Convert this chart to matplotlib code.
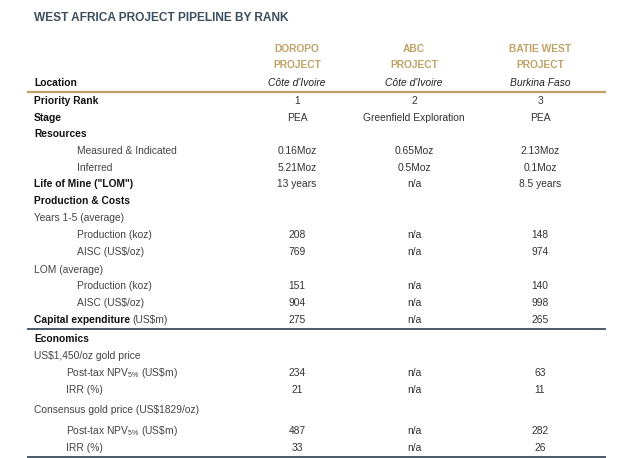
import matplotlib.pyplot as plt

plt.rcParams['font.family'] = ['Liberation Sans', 'DejaVu Sans']
plt.rcParams['mathtext.fontset'] = 'custom'
plt.rcParams['mathtext.rm'] = 'Liberation Sans'
plt.rcParams['mathtext.it'] = 'Liberation Sans:italic'

title = "WEST AFRICA PROJECT PIPELINE BY RANK"
projects = ["DOROPO\nPROJECT", "ABC\nPROJECT", "BATIE WEST\nPROJECT"]
locations = ["Côte d'Ivoire", "Côte d'Ivoire", "Burkina Faso"]

labels = ["Priority Rank", "Stage", "Resources", "Measured & Indicated", "Inferred",
          'Life of Mine ("LOM")', "Production & Costs", "Years 1-5 (average)",
          "Production (koz)", "AISC (US\\$/oz)", "LOM (average)", "Production (koz)",
          "AISC (US\\$/oz)", "Capital expenditure", "Economics", "US\\$1,450/oz gold price",
          r"Post-tax NPV$_{5\%}$ (US\$m)", "IRR (%)", "Consensus gold price (US\\$1829/oz)",
          r"Post-tax NPV$_{5\%}$ (US\$m)", "IRR (%)"]
kinds = ["bold", "bold", "bold", "sub", "sub", "bold", "bold", "plain", "sub", "sub",
         "plain", "sub", "sub", "capex", "bold", "plain", "npv", "npv", "plain", "npv", "npv"]

doropo = ["1", "PEA", "", "0.16Moz", "5.21Moz", "13 years", "", "", "208", "769", "",
          "151", "904", "275", "", "", "234", "21", "", "487", "33"]
abc = ["2", "Greenfield Exploration", "", "0.65Moz", "0.5Moz", "n/a", "", "", "n/a", "n/a", "",
       "n/a", "n/a", "n/a", "", "", "n/a", "n/a", "", "n/a", "n/a"]
batie = ["3", "PEA", "", "2.13Moz", "0.1Moz", "8.5 years", "", "", "148", "974", "",
         "140", "998", "265", "", "", "63", "11", "", "282", "26"]

# layout (pixels)
row_y = [101, 118, 134, 151, 168, 184, 201, 218, 235, 252, 270, 286, 303, 320,
         339, 356, 373, 390, 410, 431, 448]
col_x = [297, 414, 540]
label_x = {"bold": 34, "plain": 34, "sub": 77, "npv": 66, "capex": 34}

gold = '#bfa265'
slate = '#3c4d5e'
fs = 7.4

fig = plt.figure(figsize=(6.4, 4.58), dpi=100)
ax = fig.add_axes([0, 0, 1, 1])
ax.set_xlim(0, 640)
ax.set_ylim(458, 0)
ax.axis('off')

ax.text(34, 18, title, fontsize=8.6, fontweight='bold', color=slate, va='center')

for x, p, loc in zip(col_x, projects, locations):
    top, bottom = p.split("\n")
    ax.text(x, 48.5, top, fontsize=fs, fontweight='bold', color=gold, ha='center', va='center')
    ax.text(x, 65, bottom, fontsize=fs, fontweight='bold', color=gold, ha='center', va='center')
    ax.text(x, 82.5, loc, fontsize=fs, style='italic', color='#222222', ha='center', va='center')
ax.text(34, 82.5, "Location", fontsize=fs, fontweight='bold', color='#111111', va='center')

ax.plot([27, 606], [91.5, 91.5], color=gold, lw=1.6, solid_capstyle='butt')
ax.plot([27, 606], [329, 329], color=slate, lw=1.3, solid_capstyle='butt')
ax.plot([27, 606], [457, 457], color=slate, lw=1.3, solid_capstyle='butt')

fig.canvas.draw()
renderer = fig.canvas.get_renderer()

for y, lab, kind, a, b, c in zip(row_y, labels, kinds, doropo, abc, batie):
    lx = label_x[kind]
    if kind == "bold":
        ax.text(lx, y, lab, fontsize=fs, fontweight='bold', color='#111111', va='center')
    elif kind == "capex":
        t = ax.text(lx, y, lab, fontsize=fs, fontweight='bold', color='#111111', va='center')
        bb = t.get_window_extent(renderer)
        inv = ax.transData.inverted()
        x1 = inv.transform((bb.x1, bb.y0))[0]
        ax.text(x1 + 2.5, y, "(US\\$m)", fontsize=fs, color='#444444', va='center')
    else:
        ax.text(lx, y, lab, fontsize=fs, color='#444444', va='center')
    for x, v in zip(col_x, (a, b, c)):
        ax.text(x, y, v, fontsize=fs, color='#333333', ha='center', va='center')

fig.savefig('out.png', dpi=100)
